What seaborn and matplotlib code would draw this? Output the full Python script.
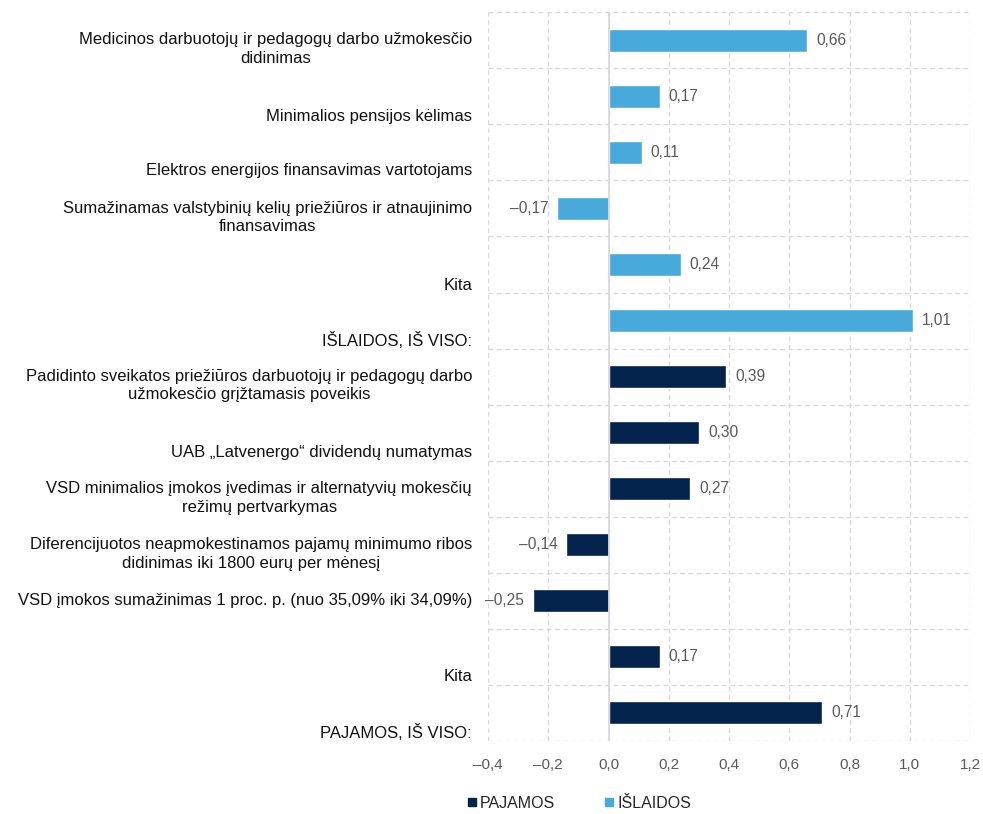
import matplotlib
matplotlib.use("Agg")
import matplotlib.pyplot as plt
import matplotlib.transforms as mtransforms
from matplotlib.lines import Line2D
import seaborn as sns
import pandas as pd

# Budget measures and their effect (top to bottom)
categories = [
    "Medicinos darbuotojų ir pedagogų darbo užmokesčio\ndidinimas",
    "Minimalios pensijos kėlimas",
    "Elektros energijos finansavimas vartotojams",
    "Sumažinamas valstybinių kelių priežiūros ir atnaujinimo\nfinansavimas",
    "Kita",
    "IŠLAIDOS, IŠ VISO:",
    "Padidinto sveikatos priežiūros darbuotojų ir pedagogų darbo\nužmokesčio grįžtamasis poveikis",
    "UAB „Latvenergo“ dividendų numatymas",
    "VSD minimalios įmokos įvedimas ir alternatyvių mokesčių\nrežimų pertvarkymas",
    "Diferencijuotos neapmokestinamos pajamų minimumo ribos\ndidinimas iki 1800 eurų per mėnesį",
    "VSD įmokos sumažinimas 1 proc. p. (nuo 35,09% iki 34,09%)",
    "Kita",
    "PAJAMOS, IŠ VISO:",
]
values = [0.66, 0.17, 0.11, -0.17, 0.24, 1.01,
          0.39, 0.30, 0.27, -0.14, -0.25, 0.17, 0.71]
groups = ["IŠLAIDOS"] * 6 + ["PAJAMOS"] * 7
xticks = [-0.4, -0.2, 0.0, 0.2, 0.4, 0.6, 0.8, 1.0, 1.2]

# vertical nudge (px) of each category label below its row centre
label_shift_px = [9, 20, 18, 9, 21, 20, 9, 20, 9, 9, 0, 20, 20]

colors = {"PAJAMOS": "#03224C", "IŠLAIDOS": "#47AADB"}
grid_col = "#D9D9D9"
text_col = "#595959"
FAM = ["Liberation Sans", "DejaVu Sans"]


def fmt(v, nd):
    s = f"{abs(v):.{nd}f}".replace(".", ",")
    return ("–" + s) if v < 0 else s


sns.set_theme(style="white")
plt.rcParams["font.family"] = FAM

df = pd.DataFrame({"row": list(range(len(values))), "value": values, "group": groups})

fig = plt.figure(figsize=(9.83, 8.14), dpi=100)
ax = fig.add_axes([0.4965, 0.0897, 0.4903, 0.8953])

sns.barplot(data=df, x="value", y="row", hue="group", orient="y",
            order=list(range(len(values))), hue_order=["PAJAMOS", "IŠLAIDOS"],
            palette=colors, dodge=False, width=0.41, saturation=1,
            legend=False, ax=ax)

# value labels at bar ends
for cont in ax.containers:
    labs = [fmt(r.get_width(), 2) for r in cont]
    ax.bar_label(cont, labels=labs, padding=6.5, fontsize=11.2, color=text_col)

ax.set_xlim(-0.4, 1.2)
ax.set_ylim(len(values) - 0.5, -0.5)
ax.set_xticks(xticks)
ax.set_xticklabels([fmt(t, 1) for t in xticks], fontsize=11, color=text_col)
ax.set_yticks(range(len(values)))
ax.set_yticklabels([])
ax.set_yticks([i - 0.5 for i in range(len(values) + 1)], minor=True)
ax.set_xlabel("")
ax.set_ylabel("")

# category labels, right-aligned against the plot, nudged down within their row
label_tr = mtransforms.blended_transform_factory(ax.transAxes, ax.transData)
for i, (txt, px) in enumerate(zip(categories, label_shift_px)):
    tr = label_tr + mtransforms.ScaledTranslation(-16 / 100, -px / 100, fig.dpi_scale_trans)
    ax.text(0, i, txt, transform=tr, ha="right", va="center",
            multialignment="center", fontsize=12, color="#111111",
            linespacing=1.3)

ax.tick_params(axis="both", which="both", length=0)
ax.tick_params(axis="x", pad=12)

dash = (0, (3.5, 2.5))
ax.grid(axis="x", which="major", color=grid_col, linestyle=dash, linewidth=1)
ax.grid(axis="y", which="minor", color=grid_col, linestyle=dash, linewidth=1)
ax.grid(axis="y", which="major", visible=False)
ax.set_axisbelow(True)
for s in ax.spines.values():
    s.set_visible(False)
ax.axvline(0, color=grid_col, linewidth=1.3, zorder=1.5)

handles = [Line2D([], [], marker="s", linestyle="", markersize=6,
                  color=colors[g]) for g in ["PAJAMOS", "IŠLAIDOS"]]
fig.legend(handles, ["PAJAMOS", "IŠLAIDOS"], loc="center", ncol=2,
           bbox_to_anchor=(0.589, 0.0135), frameon=False,
           prop={"size": 11.5}, handlelength=0.6, handletextpad=0.2,
           columnspacing=3.1, labelcolor="#262626")

fig.savefig("out.png", dpi=100, facecolor="white")
